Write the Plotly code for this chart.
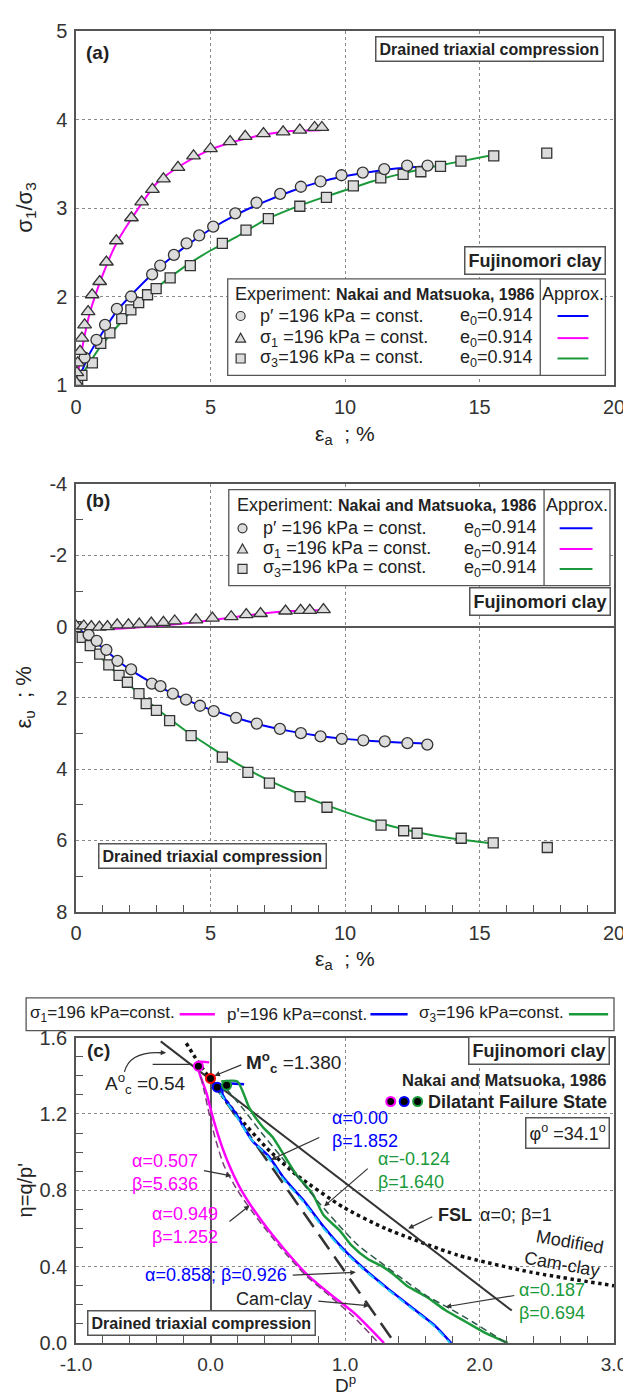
import plotly.graph_objects as go

# ====================== DATA ======================
# Panel (a): sigma1/sigma3 vs axial strain (%)
a_circ_x = [0.32, 0.76, 1.08, 1.52, 2.05, 2.83, 3.13, 3.64, 4.11, 4.58, 5.10, 5.92, 6.71, 7.59, 8.36,
            9.09, 9.87, 10.66, 11.46, 12.31, 13.07]
a_circ_y = [1.31, 1.51, 1.68, 1.86, 2.00, 2.25, 2.35, 2.47, 2.60, 2.69, 2.79, 2.94, 3.06, 3.16, 3.24,
            3.30, 3.37, 3.40, 3.44, 3.48, 3.48]
a_tri_x = [0.0, 0.03, 0.06, 0.15, 0.22, 0.32, 0.45, 0.60, 0.88, 1.13, 1.50, 2.06, 2.44, 2.84, 3.25,
           3.79, 4.37, 5.00, 5.73, 6.29, 6.97, 7.70, 8.32, 8.87, 9.14]
a_tri_y = [1.03, 1.14, 1.25, 1.38, 1.53, 1.68, 1.83, 2.02, 2.17, 2.39, 2.63, 2.89, 3.07, 3.21, 3.33,
           3.46, 3.59, 3.67, 3.75, 3.81, 3.84, 3.86, 3.88, 3.91, 3.91]
a_sq_x = [0.06, 0.22, 0.61, 0.92, 1.26, 1.70, 2.04, 2.33, 2.66, 2.98, 3.50, 4.25, 5.44, 6.32, 7.15,
          8.32, 9.31, 10.31, 11.33, 12.16, 12.82, 13.55, 14.31, 15.53, 17.50]
a_sq_y = [1.01, 1.11, 1.25, 1.47, 1.59, 1.75, 1.85, 1.93, 2.02, 2.09, 2.21, 2.35, 2.60, 2.75, 2.88,
          3.02, 3.12, 3.25, 3.34, 3.38, 3.41, 3.47, 3.53, 3.59, 3.62]
# approximation curves (a)
a_blue_x = [0, 0.5, 1, 1.5, 2, 3, 4, 5, 6, 7, 8, 9, 10, 11, 12, 13]
a_blue_y = [1.0, 1.35, 1.60, 1.83, 2.00, 2.30, 2.55, 2.76, 2.93, 3.07, 3.19, 3.29, 3.36, 3.41, 3.45, 3.47]
a_mag_x = [0, 0.25, 0.5, 1, 1.5, 2, 3, 4, 5, 6, 7, 8, 9.1]
a_mag_y = [1.0, 1.45, 1.80, 2.25, 2.60, 2.85, 3.28, 3.50, 3.66, 3.76, 3.83, 3.87, 3.88]
a_grn_x = [0, 0.5, 1, 2, 3, 4, 5, 6, 7, 8, 9, 10, 11, 12, 13, 14, 15.5]
a_grn_y = [1.0, 1.25, 1.47, 1.82, 2.10, 2.33, 2.52, 2.68, 2.86, 2.99, 3.10, 3.20, 3.30, 3.38, 3.45, 3.51, 3.60]

# Panel (b): volumetric strain (%) vs axial strain (%)
b_circ_x = [0.47, 0.77, 1.13, 1.54, 2.05, 2.82, 3.14, 3.60, 4.09, 4.61, 5.12, 5.95, 6.72, 7.58, 8.36,
            9.09, 9.88, 10.68, 11.48, 12.32, 13.06]
b_circ_y = [0.23, 0.40, 0.65, 0.96, 1.20, 1.60, 1.67, 1.88, 2.05, 2.22, 2.37, 2.56, 2.72, 2.87, 2.99,
            3.08, 3.15, 3.19, 3.22, 3.27, 3.31]
b_tri_x = [0.0, 0.29, 0.57, 0.87, 1.17, 1.53, 1.95, 2.35, 2.80, 3.25, 3.67, 4.46, 5.07, 5.77, 6.33,
           6.86, 7.79, 8.35, 8.69, 9.20]
b_tri_y = [-0.02, -0.02, 0.0, 0.01, 0.0, -0.05, -0.05, -0.07, -0.10, -0.12, -0.16, -0.19, -0.24, -0.28,
           -0.34, -0.37, -0.44, -0.46, -0.46, -0.48]
b_sq_x = [0.0, 0.23, 0.53, 0.88, 1.22, 1.60, 1.91, 2.34, 2.61, 2.99, 3.48, 4.28, 5.44, 6.39, 7.19,
          8.33, 9.33, 11.34, 12.18, 12.68, 14.32, 15.51, 17.52]
b_sq_y = [0.0, 0.30, 0.53, 0.77, 1.07, 1.37, 1.56, 1.88, 2.16, 2.35, 2.64, 3.06, 3.66, 4.09, 4.39,
          4.77, 5.07, 5.57, 5.73, 5.80, 5.94, 6.07, 6.20]
b_blue_x = [0, 0.5, 1, 1.5, 2, 3, 4, 5, 6, 7, 8, 9, 10, 11, 12, 13]
b_blue_y = [0.0, 0.30, 0.60, 0.92, 1.20, 1.65, 2.02, 2.33, 2.57, 2.78, 2.94, 3.06, 3.15, 3.21, 3.25, 3.28]
b_mag_x = [0, 0.5, 1, 1.5, 2, 3, 4, 5, 6, 7, 8, 9.2]
b_mag_y = [0.0, 0.04, 0.06, 0.06, 0.04, -0.02, -0.09, -0.18, -0.28, -0.38, -0.44, -0.47]
b_grn_x = [0, 0.5, 1, 1.5, 2, 3, 4, 5, 6, 7, 8, 9, 10, 11, 12, 13, 14, 15.4]
b_grn_y = [0.0, 0.50, 0.92, 1.30, 1.65, 2.30, 2.88, 3.38, 3.85, 4.25, 4.60, 4.92, 5.20, 5.45, 5.65,
           5.82, 5.95, 6.08]

# Panel (c): stress ratio eta vs plastic dilatancy Dp
c_mag_x = [-0.01, -0.10, -0.03, 0.01, 0.07, 0.14, 0.23, 0.38, 0.55, 0.73, 0.90, 1.08, 1.29]
c_mag_y = [1.47, 1.47, 1.31, 1.20, 1.06, 0.93, 0.80, 0.64, 0.49, 0.35, 0.25, 0.15, 0.0]
c_magd_x = [-0.09, -0.05, -0.01, 0.04, 0.10, 0.20, 0.35, 0.52, 0.70, 0.88, 1.06, 1.25]
c_magd_y = [1.45, 1.33, 1.20, 1.06, 0.93, 0.80, 0.65, 0.50, 0.36, 0.25, 0.14, 0.0]
c_blue_x = [0.25, 0.10, 0.09, 0.19, 0.31, 0.43, 0.55, 0.70, 0.84, 0.99, 1.14, 1.31, 1.49, 1.67, 1.79]
c_blue_y = [1.355, 1.355, 1.30, 1.20, 1.06, 0.98, 0.86, 0.74, 0.61, 0.49, 0.39, 0.29, 0.19, 0.09, 0.0]
c_cyan_x = [0.07, 0.18, 0.30, 0.42, 0.54, 0.69, 0.83, 0.98, 1.13, 1.30, 1.48, 1.66, 1.78]
c_cyan_y = [1.31, 1.20, 1.07, 0.98, 0.86, 0.74, 0.61, 0.49, 0.39, 0.29, 0.19, 0.09, 0.0]
c_grn_x = [0.08, 0.20, 0.29, 0.39, 0.46, 0.55, 0.64, 0.76, 0.84, 0.96, 1.05, 1.17, 1.28, 1.36, 1.46,
           1.61, 1.75, 1.90, 2.05, 2.21]
c_grn_y = [1.37, 1.37, 1.23, 1.13, 1.08, 0.98, 0.88, 0.78, 0.67, 0.59, 0.51, 0.44, 0.40, 0.36, 0.30,
           0.24, 0.17, 0.11, 0.05, 0.0]
c_grnd_x = [0.12, 0.25, 0.38, 0.52, 0.66, 0.80, 0.95, 1.10, 1.25, 1.42, 1.60, 1.78, 1.95, 2.20]
c_grnd_y = [1.33, 1.22, 1.10, 0.98, 0.86, 0.74, 0.62, 0.51, 0.43, 0.34, 0.25, 0.18, 0.11, 0.0]
c_fsl_x = [-0.37, 2.24]
c_fsl_y = [1.58, 0.17]
c_cc_x = [0.0, 1.37]
c_cc_y = [1.38, 0.0]
c_mcc_x = [-0.18, -0.10, 0.0, 0.19, 0.42, 0.64, 0.99, 1.30, 1.84, 2.39, 3.0]
c_mcc_y = [1.57, 1.48, 1.38, 1.20, 1.02, 0.88, 0.71, 0.60, 0.46, 0.37, 0.30]
c_fail_x = [-0.09, 0.0, 0.05, 0.12]
c_fail_y = [1.45, 1.386, 1.34, 1.35]

# tick labels
a_xt = [0, 5, 10, 15, 20]
a_xl = ["0", "5", "10", "15", "20"]
a_yt = [1, 2, 3, 4, 5]
a_yl = ["1", "2", "3", "4", "5"]
b_yt = [-4, -2, 0, 2, 4, 6, 8]
b_yl = ["-4", "-2", "0", "2", "4", "6", "8"]
c_xt = [-1, 0, 1, 2, 3]
c_xl = ["-1.0", "0.0", "1.0", "2.0", "3.0"]
c_yt = [0, 0.4, 0.8, 1.2, 1.6]
c_yl = ["0.0", "0.4", "0.8", "1.2", "1.6"]

# ====================== STYLE / LAYOUT ======================
FONT = "Liberation Sans, Arial, sans-serif"
BLUE, MAG, GRN = "#0000ff", "#ff00ff", "#1a9a3a"
DARK = "#333333"
W, H = 631, 1395
L, R, T, B = 68, 13, 12, 60
PW, PH = W - L - R, H - T - B


def px_x(p):
    return (p - L) / PW


def px_y(p):
    return (H - B - p) / PH


fig = go.Figure()


def line(x, y, color, xa, ya, width=2, dash="solid", shape="spline"):
    fig.add_trace(go.Scatter(x=x, y=y, mode="lines", xaxis=xa, yaxis=ya, hoverinfo="skip",
                             line=dict(color=color, width=width, dash=dash, shape=shape,
                                       smoothing=0.6)))


def marks(x, y, symbol, size, xa, ya):
    fig.add_trace(go.Scatter(x=x, y=y, mode="markers", xaxis=xa, yaxis=ya, hoverinfo="skip",
                             marker=dict(symbol=symbol, size=size, color="#dcdcdc",
                                         line=dict(color=DARK, width=1.3))))


# panel (a)
line(a_mag_x, a_mag_y, MAG, "x", "y")
line(a_blue_x, a_blue_y, BLUE, "x", "y")
line(a_grn_x, a_grn_y, GRN, "x", "y")
marks(a_sq_x, a_sq_y, "square", 10, "x", "y")
marks(a_circ_x, a_circ_y, "circle", 11, "x", "y")
marks(a_tri_x, a_tri_y, "triangle-up", 12, "x", "y")

# panel (b)
line(b_mag_x, b_mag_y, MAG, "x2", "y2")
line(b_blue_x, b_blue_y, BLUE, "x2", "y2")
line(b_grn_x, b_grn_y, GRN, "x2", "y2")
marks(b_sq_x, b_sq_y, "square", 10, "x2", "y2")
marks(b_circ_x, b_circ_y, "circle", 11, "x2", "y2")
marks(b_tri_x, b_tri_y, "triangle-up", 12, "x2", "y2")

# panel (c)
line(c_mcc_x, c_mcc_y, "#111", "x3", "y3", width=3.5, dash="dot")
line(c_fsl_x, c_fsl_y, DARK, "x3", "y3", width=2, shape="linear")
line(c_cc_x, c_cc_y, DARK, "x3", "y3", width=2.5, dash="18px,9px", shape="linear")
line(c_mag_x, c_mag_y, MAG, "x3", "y3", width=2.5)
line(c_blue_x, c_blue_y, BLUE, "x3", "y3", width=2.5)
line(c_grn_x, c_grn_y, GRN, "x3", "y3", width=2.5)
line(c_magd_x, c_magd_y, "#7a3d7a", "x3", "y3", width=1.5, dash="7px,4px")
line(c_cyan_x, c_cyan_y, "#22c8ff", "x3", "y3", width=2, dash="8px,5px")
line(c_grnd_x, c_grnd_y, "#2d5a4a", "x3", "y3", width=1.5, dash="7px,4px")
fig.add_trace(go.Scatter(x=c_fail_x, y=c_fail_y, mode="markers", xaxis="x3", yaxis="y3",
                         hoverinfo="skip",
                         marker=dict(size=9, color="black",
                                     line=dict(color=[MAG, "red", BLUE, GRN], width=2))))


def axis(rng, tv, tl, domain, anchor, minor_vals=None, zeroline=False, size=20):
    d = dict(range=rng, domain=domain, anchor=anchor, tickmode="array", tickvals=tv, ticktext=tl,
             showgrid=True, gridcolor="#8a8a8a", griddash="dot", gridwidth=1,
             showline=True, mirror=True, linecolor="#555", linewidth=1.5,
             zeroline=zeroline, zerolinecolor="#555", zerolinewidth=1.5,
             ticks="", tickfont=dict(family=FONT, size=size, color="#333"),
             ticklabelstandoff=3, fixedrange=True)
    if minor_vals is not None:
        d["minor"] = dict(tickmode="array", tickvals=minor_vals, ticks="inside", ticklen=7,
                          tickcolor="#555", showgrid=False)
    return d


b_minor_x = [v for v in range(1, 20) if v % 5]
b_minor_y = [-3, -1, 1, 3, 5, 7]
c_minor_x = [round(-1 + 0.2 * i, 1) for i in range(1, 20) if i % 5]
c_minor_y = [round(0.1 * i, 1) for i in range(1, 16) if i % 4]

dom_a = [px_y(369), 1.0]
dom_b = [px_y(900), px_y(469)]
dom_c = [0.0, px_y(1027)]

fig.update_layout(
    width=W, height=H, autosize=False,
    margin=dict(l=L, r=R, t=T, b=B, pad=0),
    paper_bgcolor="white", plot_bgcolor="white", showlegend=False,
    font=dict(family=FONT, color="#222"),
    xaxis=axis([0, 20], a_xt, a_xl, [0, 1], "y"),
    yaxis=axis([1, 5], a_yt, a_yl, dom_a, "x"),
    xaxis2=axis([0, 20], a_xt, a_xl, [0, 1], "y2", minor_vals=b_minor_x),
    yaxis2=axis([8, -4], b_yt, b_yl, dom_b, "x2", minor_vals=b_minor_y, zeroline=True),
    xaxis3=axis([-1, 3], c_xt, c_xl, [0, 1], "y3", minor_vals=c_minor_x, zeroline=True, size=19),
    yaxis3=axis([0, 1.6], c_yt, c_yl, dom_c, "x3", minor_vals=c_minor_y),
)

ann = []
shapes = []


def txt(t, x, y, xref, yref, xanchor="left", size=18, color="#222", angle=0, align="left"):
    ann.append(dict(text=t, x=x, y=y, xref=xref, yref=yref, xanchor=xanchor, yanchor="middle",
                    showarrow=False, align=align, textangle=angle,
                    font=dict(family=FONT, size=size, color=color)))


def boxed(t, x, y, xref, yref, xanchor, size):
    ann.append(dict(text="<b>" + t + "</b>", x=x, y=y, xref=xref, yref=yref, xanchor=xanchor,
                    yanchor="middle", showarrow=False, bgcolor="white", bordercolor="#555",
                    borderwidth=1.5, borderpad=3, font=dict(family=FONT, size=size, color="#222")))


def arrow(tx, ty, hx, hy, xref="x3", yref="y3"):
    ann.append(dict(text="", x=hx, y=hy, ax=tx, ay=ty, xref=xref, yref=yref, axref=xref,
                    ayref=yref, showarrow=True, arrowhead=2, arrowsize=0.9, arrowwidth=1.2,
                    arrowcolor="#333"))


def seg(x0, y0, x1, y1, xref, yref, color, width=2, dash="solid"):
    shapes.append(dict(type="line", x0=x0, y0=y0, x1=x1, y1=y1, xref=xref, yref=yref,
                       line=dict(color=color, width=width, dash=dash)))


def glyph(kind, x, y, xref, yref, fill="#dcdcdc", edge=DARK, r=4.5, lw=1.2):
    base = dict(xref=xref, yref=yref, xsizemode="pixel", ysizemode="pixel", xanchor=x, yanchor=y,
                fillcolor=fill, line=dict(color=edge, width=lw))
    if kind == "circle":
        base.update(type="circle", x0=-r, x1=r, y0=-r, y1=r)
    elif kind == "square":
        base.update(type="rect", x0=-r, x1=r, y0=-r, y1=r)
    else:
        base.update(type="path", path="M -5,-4 L 5,-4 L 0,5 Z")
    shapes.append(base)


def exp_legend(xr, yr, x0, x1, y0, y1, div, head_y, rows, mk_x, tx_x, e0_x, l0, l1, ap_x, exp_x):
    shapes.append(dict(type="rect", x0=x0, x1=x1, y0=y0, y1=y1, xref=xr, yref=yr,
                       fillcolor="white", line=dict(color="#555", width=1.3)))
    seg(div, y0, div, y1, xr, yr, "#555", 1.3)
    txt("Experiment: <span style='font-size:16px'><b>Nakai and Matsuoka, 1986</b></span>",
        exp_x, head_y, xr, yr, size=18)
    txt("Approx.", ap_x, head_y, xr, yr, xanchor="center", size=18)
    labels = ["p\u2032 =196 kPa = const.", "\u03c3<sub>1</sub> =196 kPa = const.",
              "\u03c3<sub>3</sub>=196 kPa = const."]
    kinds = ["circle", "triangle", "square"]
    cols = [BLUE, MAG, GRN]
    for yy, lab, kd, cl in zip(rows, labels, kinds, cols):
        glyph(kd, mk_x, yy, xr, yr)
        txt(lab, tx_x, yy, xr, yr, size=18)
        txt("e<sub>0</sub>=0.914", e0_x, yy, xr, yr, xanchor="right", size=18)
        seg(l0, yy, l1, yy, xr, yr, cl, 2)


# ---- panel (a) decorations
txt("<b>(a)</b>", 0.3, 4.76, "x", "y", size=19)
boxed("Drained triaxial compression", 19.63, 4.795, "x", "y", "right", 16)
boxed("Fujinomori clay", 19.7, 2.41, "x", "y", "right", 18)
exp_legend("x", "y", 5.64, 19.68, 1.11, 2.2, 17.26, 2.03, [1.78, 1.53, 1.30],
           6.12, 6.78, 17.08, 17.9, 19.05, 18.47, 5.83)

# ---- panel (b) decorations
txt("<b>(b)</b>", 0.3, -3.55, "x2", "y2", size=19)
exp_legend("x2", "y2", 5.68, 19.85, -3.85, -1.15, 17.4, -3.41, [-2.76, -2.18, -1.62],
           6.19, 6.87, 17.2, 17.98, 19.2, 18.62, 5.9)
boxed("Fujinomori clay", 19.87, -0.71, "x2", "y2", "right", 18)
boxed("Drained triaxial compression", 0.8, 6.45, "x2", "y2", "left", 16)

# ---- panel (c) decorations
txt("<b>(c)</b>", -0.93, 1.53, "x3", "y3", size=19)
boxed("Fujinomori clay", 2.97, 1.53, "x3", "y3", "right", 18)
txt("<b>Nakai and Matsuoka, 1986</b>", 2.96, 1.38, "x3", "y3", xanchor="right", size=16.5)
txt("<b>Dilatant Failure State</b>", 2.96, 1.265, "x3", "y3", xanchor="right", size=18)
for gx, gc in zip([1.34, 1.44, 1.54], [MAG, BLUE, GRN]):
    glyph("circle", gx, 1.265, "x3", "y3", fill="black", edge=gc, r=4.5, lw=2)
ann.append(dict(text="\u03c6<sup>o</sup> =34.1<sup>o</sup>", x=2.97, y=1.10, xref="x3", yref="y3",
                xanchor="right", yanchor="middle", showarrow=False, bgcolor="white",
                bordercolor="#555", borderwidth=1.5, borderpad=3,
                font=dict(family=FONT, size=18, color="#222")))
txt("<b>M<sup>o</sup><sub>c</sub></b> =1.380", 0.25, 1.47, "x3", "y3", size=19)
arrow(0.24, 1.46, 0.03, 1.40)
txt("A<sup>o</sup><sub>c</sub> =0.54", -0.8, 1.36, "x3", "y3", size=19)
seg(-0.43, 1.46, -0.14, 1.46, "x3", "y3", DARK, 1.2)
shapes.append(dict(type="path", path="M -0.64,1.42 Q -0.60,1.53 -0.36,1.52", xref="x3", yref="y3",
                   line=dict(color=DARK, width=1.2)))
arrow(-0.40, 1.522, -0.33, 1.52)

txt("\u03b1=0.00<br>\u03b2=1.852", 0.89, 1.12, "x3", "y3", size=18, color=BLUE)
arrow(0.82, 1.08, 0.45, 0.96)
txt("\u03b1=-0.124<br>\u03b2=1.640", 1.23, 0.905, "x3", "y3", size=18, color=GRN)
arrow(1.18, 0.92, 0.845, 0.716)
txt("\u03b1=0.507<br>\u03b2=5.636", -0.08, 0.895, "x3", "y3", xanchor="right", size=18, color=MAG,
    align="left")
arrow(-0.06, 0.905, 0.155, 0.875)
txt("\u03b1=0.949<br>\u03b2=1.252", 0.07, 0.615, "x3", "y3", xanchor="right", size=18, color=MAG,
    align="left")
arrow(0.13, 0.63, 0.29, 0.72)
txt("<b>FSL</b>", 1.68, 0.67, "x3", "y3", size=18)
txt("\u03b1=0; \u03b2=1", 1.99, 0.67, "x3", "y3", size=18)
arrow(1.66, 0.665, 1.47, 0.60)
txt("Modified<br>Cam-clay", 2.95, 0.475, "x3", "y3", xanchor="right", size=18, angle=10,
    align="right")
txt("\u03b1=0.858; \u03b2=0.926", 0.58, 0.355, "x3", "y3", xanchor="right", size=18, color=BLUE)
arrow(0.60, 0.355, 1.08, 0.37)
txt("Cam-clay", 0.77, 0.23, "x3", "y3", xanchor="right", size=18)
arrow(0.79, 0.22, 1.18, 0.195)
txt("\u03b1=0.187<br>\u03b2=0.694", 2.28, 0.215, "x3", "y3", size=18, color=GRN)
arrow(2.27, 0.25, 1.75, 0.19)
boxed("Drained triaxial compression", -0.92, 0.105, "x3", "y3", "left", 16)

# ---- legend above panel (c)
shapes.append(dict(type="rect", xref="paper", yref="paper", x0=px_x(17), x1=px_x(618),
                   y0=px_y(1020), y1=px_y(987), line=dict(color="#555", width=1.3),
                   fillcolor="white"))
ly = px_y(1003.5)
txt("\u03c3<sub>1</sub>=196 kPa=const.", px_x(19), ly, "paper", "paper", size=17)
seg(px_x(174), ly, px_x(210), ly, "paper", "paper", MAG, 2.5)
txt("p'=196 kPa=const.", px_x(220), ly, "paper", "paper", size=17)
seg(px_x(369), ly, px_x(407), ly, "paper", "paper", BLUE, 2.5)
txt("\u03c3<sub>3</sub>=196 kPa=const.", px_x(417), ly, "paper", "paper", size=17)
seg(px_x(572), ly, px_x(612), ly, "paper", "paper", GRN, 2.5)

# ---- axis titles
txt("\u03b5<sub>a</sub>  ; %", 0.5, px_y(419), "paper", "paper", xanchor="center", size=21)
txt("\u03b5<sub>a</sub>  ; %", 0.5, px_y(949), "paper", "paper", xanchor="center", size=21)
txt("D<sup>p</sup>", 0.5, px_y(1376), "paper", "paper", xanchor="center", size=19)
txt("\u03c3<sub>1</sub>/\u03c3<sub>3</sub>", px_x(16), px_y(190), "paper", "paper",
    xanchor="center", size=22, angle=-90)
txt("\u03b5<sub>\u03c5</sub>  ; %", px_x(16), px_y(684), "paper", "paper", xanchor="center",
    size=22, angle=-90)
txt("\u03b7=q/p'", px_x(16), px_y(1181), "paper", "paper", xanchor="center", size=20, angle=-90)

fig.update_layout(annotations=ann, shapes=shapes)
fig.write_html("out.html")
